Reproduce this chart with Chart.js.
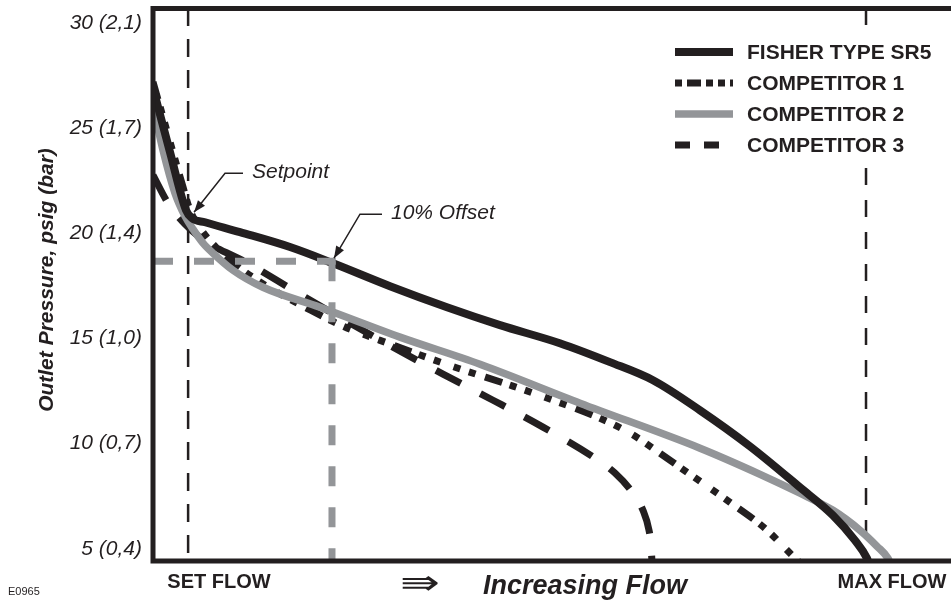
<!DOCTYPE html>
<html>
<head>
<meta charset="utf-8">
<title>Outlet Pressure vs Flow</title>
<script src="https://cdn.jsdelivr.net/npm/chart.js@4.4.1/dist/chart.umd.min.js"></script>
<style>
    html, body { margin: 0; padding: 0; background: #fff; }
    #wrap { width: 951px; height: 607px; }
</style>
</head>
<body>
<div id="wrap"><canvas id="flowChart" width="951" height="607"></canvas></div>
<script>
// Regulator droop curves - outlet pressure vs increasing flow
// x = flow (relative units 0-100), y = outlet pressure in psig

const yTickValues = [5, 10, 15, 20, 25, 30];
const yTickLabels = ['5 (0,4)', '10 (0,7)', '15 (1,0)', '20 (1,4)', '25 (1,7)', '30 (2,1)'];

const seriesNames = ['FISHER TYPE SR5', 'COMPETITOR 1', 'COMPETITOR 2', 'COMPETITOR 3'];

const fisherFlow = [0, 2.13, 4.14, 4.89, 6.52, 10.9, 17.17, 22.56, 29.7, 36.84, 43.48, 50.98, 57.27, 62.66, 68.55, 74.81, 81.08, 85.21, 87.97, 89.47, 89.7];
const fisherPsi  = [26.9, 23.85, 21.09, 20.71, 20.52, 20.05, 19.34, 18.57, 17.48, 16.48, 15.63, 14.77, 13.87, 13.01, 11.58, 9.87, 7.92, 6.59, 5.4, 4.55, 4.3];

const comp1Flow = [0, 1.25, 3.76, 4.64, 5.89, 7.77, 10.9, 14.66, 19.3, 23.81, 30.08, 37.84, 45.11, 49.12, 56.02, 60.03, 63.53, 67.29, 72.31, 76.69, 80.2, 81.08];
const comp1Psi  = [27.18, 25.52, 22.19, 21.09, 20.24, 19.38, 18.34, 17.39, 16.43, 15.58, 14.68, 13.63, 12.73, 12.2, 11.2, 10.44, 9.54, 8.54, 7.21, 5.97, 4.65, 4.32];

const comp2Flow = [0, 1.25, 2.76, 4.01, 5.01, 6.27, 7.52, 10.03, 13.78, 20.93, 30.95, 40.98, 53.51, 68.55, 76.07, 81.08, 85.21, 88.6, 90.73, 92.1, 92.4];
const comp2Psi  = [26.09, 23.95, 21.9, 20.81, 20.19, 19.53, 19.05, 18.24, 17.43, 16.48, 15.06, 13.77, 11.92, 9.78, 8.54, 7.64, 6.83, 5.88, 5.12, 4.55, 4.3];

const comp3Flow = [0, 1.88, 4.01, 6.52, 11.65, 17.79, 23.81, 30.08, 36.34, 42.61, 48.87, 55.01, 57.89, 60.15, 61.4, 62.16, 62.41, 62.53];
const comp3Psi  = [22.76, 21.43, 20.43, 19.62, 18.62, 17.24, 15.91, 14.58, 13.3, 12.06, 10.78, 9.4, 8.6, 7.64, 6.83, 5.88, 5.17, 4.36];

// reference markers
const setFlow = 4.4;
const maxFlow = 89.35;
const offsetFlow = 22.43;
const offsetPsi = 18.67;
const offsetLineEnd = 22.9;
const setpointMark = { x: 5.14, y: 20.99 };
const offsetMark = { x: 22.68, y: 18.81 };

const yMin = 4.42;
const yMax = 30.7;

const ink = '#231f20';
const grey = '#939598';
const fontFamily = "'Liberation Sans', Arial, Helvetica, sans-serif";

function toPoints(xs, ys) {
    return xs.map((x, i) => ({ x: x, y: ys[i] }));
}

// dash styles (also used for the legend samples)
const seriesStyles = [
    { color: ink, width: 8, dash: [], legendDash: [] },
    { color: ink, width: 7, dash: [18, 8, 7, 9, 7, 14, 7, 9, 7, 10], legendDash: [7, 5, 14, 5, 7, 5, 7, 5] },
    { color: grey, width: 7.5, dash: [], legendDash: [] },
    { color: ink, width: 7, dash: [28, 22], legendDash: [15, 14] }
];

function curveDataset(label, xs, ys, style, order) {
    return {
        label: label,
        data: toPoints(xs, ys),
        borderColor: style.color,
        borderWidth: style.width,
        borderDash: style.dash,
        cubicInterpolationMode: 'monotone',
        pointRadius: 0,
        fill: false,
        order: order
    };
}

function guideDataset(label, points, color, width, dash, order) {
    return {
        label: label,
        data: points,
        borderColor: color,
        borderWidth: width,
        borderDash: dash,
        tension: 0,
        pointRadius: 0,
        fill: false,
        order: order
    };
}

// Leader line with arrowhead + italic label
function drawLeader(ctx, tipX, tipY, dx, dy, run, text) {
    const ex = tipX + dx;
    const ey = tipY + dy;
    ctx.save();
    ctx.strokeStyle = ink;
    ctx.fillStyle = ink;
    ctx.lineWidth = 1.5;
    ctx.setLineDash([]);
    ctx.beginPath();
    ctx.moveTo(ex + run, ey);
    ctx.lineTo(ex, ey);
    ctx.lineTo(tipX, tipY);
    ctx.stroke();

    const ang = Math.atan2(tipY - ey, tipX - ex);
    const len = 12, half = 4.5;
    const bx = tipX - Math.cos(ang) * len;
    const by = tipY - Math.sin(ang) * len;
    ctx.beginPath();
    ctx.moveTo(tipX, tipY);
    ctx.lineTo(bx + Math.sin(ang) * half, by - Math.cos(ang) * half);
    ctx.lineTo(bx - Math.sin(ang) * half, by + Math.cos(ang) * half);
    ctx.closePath();
    ctx.fill();

    ctx.font = 'italic 21px ' + fontFamily;
    ctx.textAlign = 'left';
    ctx.textBaseline = 'alphabetic';
    ctx.fillText(text, ex + run + 9, ey + 5);
    ctx.restore();
}

const decorPlugin = {
    id: 'decor',
    afterDatasetsDraw(chart) {
        const ctx = chart.ctx;
        const area = chart.chartArea;
        const xs = chart.scales.x;
        const ys = chart.scales.y;

        // 1. Frame (left, top, bottom)
        ctx.save();
        ctx.strokeStyle = ink;
        ctx.lineWidth = 5;
        ctx.setLineDash([]);
        ctx.beginPath();
        ctx.moveTo(area.right, area.top + 0.5);
        ctx.lineTo(area.left, area.top + 0.5);
        ctx.lineTo(area.left, area.bottom);
        ctx.lineTo(area.right, area.bottom);
        ctx.stroke();
        ctx.restore();

        // 2. Annotations
        drawLeader(ctx, xs.getPixelForValue(setpointMark.x), ys.getPixelForValue(setpointMark.y), 31, -39, 18, 'Setpoint');
        drawLeader(ctx, xs.getPixelForValue(offsetMark.x), ys.getPixelForValue(offsetMark.y), 26, -44, 22, '10% Offset');

        // 3. Legend (white box covers the max flow line)
        ctx.save();
        ctx.fillStyle = '#fff';
        ctx.fillRect(665, 30, 275, 130);
        seriesNames.forEach((name, i) => {
            const st = seriesStyles[i];
            const y = 52 + i * 31;
            ctx.strokeStyle = st.color;
            ctx.lineWidth = st.width;
            ctx.setLineDash(st.legendDash);
            ctx.beginPath();
            ctx.moveTo(675, y);
            ctx.lineTo(733, y);
            ctx.stroke();
            ctx.fillStyle = ink;
            ctx.font = 'bold 21px ' + fontFamily;
            ctx.textAlign = 'left';
            ctx.textBaseline = 'middle';
            ctx.fillText(name, 747, y + 1);
        });
        ctx.restore();

        // 4. Axis texts
        ctx.save();
        ctx.fillStyle = ink;
        ctx.textBaseline = 'alphabetic';
        ctx.font = 'bold 20px ' + fontFamily;
        ctx.textAlign = 'center';
        ctx.fillText('SET FLOW', 219, 588);
        ctx.fillText('MAX FLOW', 892, 588);

        ctx.font = 'bold italic 27px ' + fontFamily;
        ctx.textAlign = 'left';
        ctx.fillText('Increasing Flow', 483, 594);

        ctx.save();
        ctx.translate(400, 594);
        ctx.scale(1.4, 1);
        ctx.font = '34px "DejaVu Sans"';
        ctx.textAlign = 'left';
        ctx.fillText('\u21DB', 0, 0);
        ctx.restore();

        ctx.font = '11px ' + fontFamily;
        ctx.fillText('E0965', 8, 595);

        ctx.translate(53, 280);
        ctx.rotate(-Math.PI / 2);
        ctx.font = 'bold italic 21px ' + fontFamily;
        ctx.textAlign = 'center';
        ctx.fillText('Outlet Pressure, psig (bar)', 0, 0);
        ctx.restore();
    }
};

document.addEventListener('DOMContentLoaded', () => {
    const ctx = document.getElementById('flowChart').getContext('2d');

    new Chart(ctx, {
        type: 'line',
        data: {
            datasets: [
                guideDataset('offset-h', [{ x: 0, y: offsetPsi }, { x: offsetLineEnd, y: offsetPsi }], grey, 7, [20, 21], 0),
                guideDataset('offset-v', [{ x: offsetFlow, y: offsetPsi }, { x: offsetFlow, y: yMin }], grey, 7, [20, 21], 0),
                curveDataset(seriesNames[0], fisherFlow, fisherPsi, seriesStyles[0], 1),
                curveDataset(seriesNames[2], comp2Flow, comp2Psi, seriesStyles[2], 2),
                curveDataset(seriesNames[1], comp1Flow, comp1Psi, seriesStyles[1], 3),
                curveDataset(seriesNames[3], comp3Flow, comp3Psi, seriesStyles[3], 4),
                guideDataset('set-flow', [{ x: setFlow, y: yMax }, { x: setFlow, y: yMin }], ink, 2.5, [18, 13], 5),
                guideDataset('max-flow', [{ x: maxFlow, y: yMax }, { x: maxFlow, y: yMin }], ink, 2.5, [17, 15], 5)
            ]
        },
        options: {
            responsive: false,
            devicePixelRatio: 1,
            animation: false,
            layout: { padding: { top: 8, bottom: 46, left: 0, right: 0 } },
            plugins: {
                legend: { display: false },
                tooltip: { enabled: false }
            },
            scales: {
                x: { type: 'linear', min: 0, max: 100, display: false },
                y: {
                    type: 'linear',
                    min: yMin,
                    max: yMax,
                    position: 'left',
                    grid: { display: false, drawTicks: false },
                    border: { display: false },
                    ticks: {
                        padding: 11,
                        color: ink,
                        font: { family: fontFamily, size: 21, style: 'italic' },
                        callback: (value) => {
                            const i = yTickValues.indexOf(value);
                            return i >= 0 ? yTickLabels[i] : '';
                        }
                    },
                    afterBuildTicks: (scale) => {
                        scale.ticks = yTickValues.map(v => ({ value: v }));
                    },
                    afterFit: (scale) => {
                        scale.width = 153;
                        scale.paddingTop = 0;
                        scale.paddingBottom = 0;
                    }
                }
            }
        },
        plugins: [decorPlugin]
    });
});
</script>
</body>
</html>
